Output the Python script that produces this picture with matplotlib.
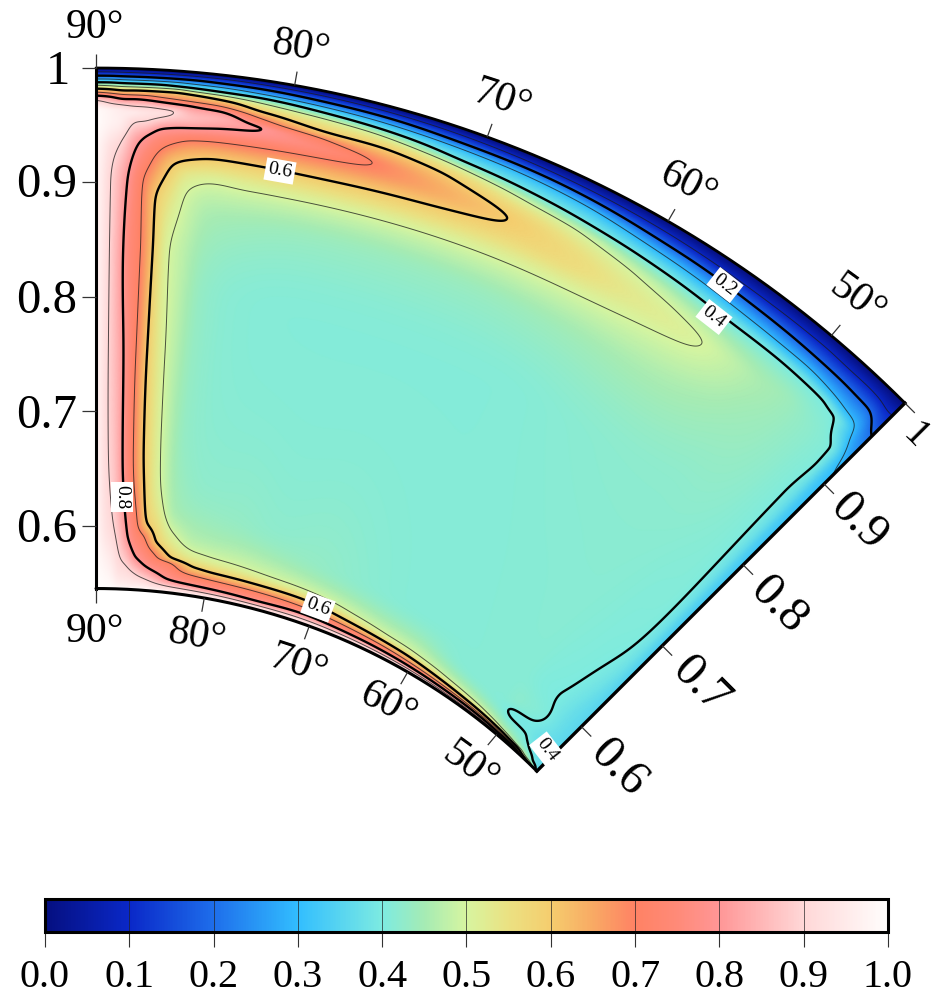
import numpy as np
import matplotlib
matplotlib.use("Agg")
import matplotlib.pyplot as plt
from matplotlib.colors import LinearSegmentedColormap

plt.rcParams['font.family'] = ['Liberation Serif', 'DejaVu Serif']

W, H = 937, 997
CX, CY, RPX = 96.0, 1212.0, 1144.0
R_IN = 0.545

# Field readings along rays of constant angle (radius, value)
r_90 = [.545,.7,.85,.955,.965,.972,.976,.979,.982,.985,.9875,.9904,.9933,.9967,1]
v_90 = [1,.99,.99,1,.99,.9,.8,.7,.6,.5,.4,.3,.2,.1,0]
r_892 = [.545,.57,.6,.667,.75,.84,.9,.93,.955,.963,.969,.975,.978,.9815,.9845,.9875,.9904,.9933,.9967,1]
v_892 = [1,.97,.93,.905,.9,.9,.9,.92,.97,.97,.9,.8,.7,.6,.5,.4,.3,.2,.1,0]
r_886 = [.545,.56,.6077,.667,.75,.84,.9,.9347,.955,.9635,.968,.973,.977,.9805,.984,.987,.99,.993,.9965,1]
v_886 = [1,.97,.9,.873,.85,.83,.84,.9,.96,.95,.9,.8,.7,.6,.5,.4,.3,.2,.1,0]
r_88 = [.545,.553,.574,.66,.75,.84,.9,.935,.954,.962,.967,.9735,.977,.981,.984,.987,.99,.993,.9965,1]
v_88 = [1,.95,.9,.8,.78,.75,.767,.82,.9,.95,.9,.8,.7,.6,.5,.4,.3,.2,.1,0]
r_874 = [.545,.55,.567,.594,.667,.75,.84,.9,.92,.94,.954,.962,.967,.973,.977,.981,.984,.987,.99,.993,.9965,1]
v_874 = [1,.96,.9,.8,.73,.71,.71,.7,.74,.8,.9,.93,.9,.8,.7,.6,.5,.4,.3,.2,.1,0]
r_867 = [.545,.549,.56,.575,.615,.667,.75,.84,.886,.91,.927,.948,.958,.962,.966,.972,.976,.981,.984,.987,.99,.993,.9965,1]
v_867 = [1,.96,.9,.8,.7,.63,.61,.61,.6,.65,.7,.8,.9,.925,.9,.8,.7,.6,.5,.4,.3,.2,.1,0]
r_859 = [.545,.556,.568,.592,.605,.667,.75,.843,.867,.886,.916,.936,.95,.964,.971,.975,.981,.984,.9865,.99,.993,.9965,1]
v_859 = [1,.9,.8,.7,.6,.55,.53,.51,.52,.54,.6,.7,.8,.9,.8,.7,.6,.5,.4,.3,.2,.1,0]
r_85 = [.545,.553,.563,.578,.59,.645,.7,.75,.84,.87,.894,.91,.923,.94,.951,.96,.97,.974,.98,.983,.986,.9895,.993,.9965,1]
v_85 = [1,.9,.8,.7,.6,.5,.485,.48,.48,.49,.5,.53,.6,.7,.8,.86,.8,.7,.6,.5,.4,.3,.2,.1,0]
r_835 = [.545,.5505,.5565,.571,.576,.597,.62,.7,.8,.87,.905,.926,.941,.953,.962,.968,.9725,.978,.982,.985,.989,.9925,.9965,1]
v_835 = [1,.9,.8,.7,.6,.5,.45,.43,.43,.45,.5,.6,.7,.8,.84,.8,.7,.6,.5,.4,.3,.2,.1,0]
r_81 = [.545,.5495,.554,.562,.568,.581,.6,.65,.8,.87,.902,.925,.941,.9576,.965,.971,.979,.984,.9875,.992,.996,1]
v_81 = [1,.9,.8,.7,.6,.5,.45,.42,.412,.44,.5,.6,.7,.8,.7,.6,.5,.4,.3,.2,.1,0]
r_78 = [.545,.549,.553,.5605,.567,.579,.62,.8,.87,.9017,.924,.9415,.95,.958,.964,.976,.981,.986,.9905,.9955,1]
v_78 = [1,.9,.8,.7,.6,.5,.43,.41,.435,.5,.6,.7,.75,.7,.6,.5,.4,.3,.2,.1,0]
r_753 = [.545,.5485,.552,.56,.566,.576,.62,.8,.87,.902,.925,.948,.964,.974,.979,.985,.99,.995,1]
v_753 = [1,.9,.8,.7,.6,.5,.42,.41,.435,.5,.6,.7,.6,.5,.4,.3,.2,.1,0]
r_71 = [.545,.549,.5535,.559,.5655,.574,.6,.8,.87,.903,.928,.942,.956,.967,.973,.9825,.9875,.994,1]
v_71 = [1,.9,.8,.7,.6,.5,.43,.41,.435,.5,.6,.64,.6,.5,.4,.3,.2,.1,0]
r_675 = [.545,.5485,.552,.557,.562,.57,.6,.8,.87,.904,.94,.961,.9695,.981,.987,.993,1]
v_675 = [1,.9,.8,.7,.6,.5,.42,.41,.435,.5,.6,.5,.4,.3,.2,.1,0]
r_635 = [.545,.548,.551,.555,.559,.565,.6,.8,.87,.905,.93,.955,.965,.978,.985,.992,1]
v_635 = [1,.9,.8,.7,.6,.5,.412,.41,.44,.5,.565,.5,.4,.3,.2,.1,0]
r_60 = [.545,.5475,.55,.553,.557,.5625,.6,.8,.87,.908,.928,.945,.961,.973,.982,.991,1]
v_60 = [1,.9,.8,.7,.6,.5,.41,.415,.445,.5,.53,.5,.4,.3,.2,.1,0]
r_57 = [.545,.547,.549,.5515,.5545,.559,.58,.8,.87,.9133,.925,.936,.958,.9705,.981,.99,1]
v_57 = [1,.9,.8,.7,.6,.5,.412,.418,.45,.5,.515,.5,.4,.3,.2,.1,0]
r_548 = [.545,.5465,.5485,.5505,.553,.557,.575,.8,.88,.9257,.955,.968,.979,.989,1]
v_548 = [1,.9,.8,.7,.6,.5,.412,.42,.455,.5,.4,.3,.2,.1,0]
r_52 = [.545,.5462,.548,.5495,.5515,.5545,.57,.8,.9,.925,.955,.9665,.978,.989,1]
v_52 = [1,.9,.8,.7,.6,.5,.415,.42,.45,.46,.4,.3,.2,.1,0]
r_50 = [.545,.546,.547,.5485,.55,.552,.558,.564,.571,.578,.6,.8,.9,.93,.954,.966,.977,.989,1]
v_50 = [1,.9,.8,.7,.6,.5,.43,.4,.39,.4,.405,.42,.44,.445,.4,.3,.2,.1,0]
r_48 = [.545,.5455,.5465,.5475,.5485,.5495,.555,.562,.575,.598,.65,.75,.85,.92,.952,.963,.976,.988,1]
v_48 = [1,.9,.8,.7,.6,.5,.42,.4,.385,.4,.405,.41,.42,.425,.4,.3,.2,.1,0]
r_47 = [.545,.548,.555,.57,.6,.645,.75,.85,.92,.948,.96,.975,.988,1]
v_47 = [.7,.5,.4,.375,.385,.4,.41,.41,.415,.4,.3,.2,.1,0]
r_46 = [.545,.5465,.549,.56,.6,.684,.75,.85,.9,.925,.945,.955,.974,.987,1]
v_46 = [.6,.5,.4,.37,.365,.398,.403,.403,.403,.4,.33,.3,.2,.1,0]
r_453 = [.545,.55,.6,.7,.8,.9,.92,.945,.962,.98,1]
v_453 = [.4,.37,.36,.345,.33,.31,.3,.25,.2,.12,0]
r_45 = [.545,.55,.6,.7,.8,.905,.957,.978,.985,1]
v_45 = [.38,.36,.35,.335,.32,.3,.2,.12,.1,0]

ray_angles = [45,45.3,46,47,48,50,52,54.8,57,60,63.5,67.5,71,75.3,78,81,83.5,85,85.9,86.7,87.4,88,88.6,89.2,90]
ray_r = [r_45,r_453,r_46,r_47,r_48,r_50,r_52,r_548,r_57,r_60,r_635,r_675,r_71,r_753,r_78,r_81,r_835,r_85,r_859,r_867,r_874,r_88,r_886,r_892,r_90]
ray_v = [v_45,v_453,v_46,v_47,v_48,v_50,v_52,v_548,v_57,v_60,v_635,v_675,v_71,v_753,v_78,v_81,v_835,v_85,v_859,v_867,v_874,v_88,v_886,v_892,v_90]

# Colour scale
cmap_pos = [0,.1,.2,.3,.4,.45,.5,.55,.6,.65,.7,.75,.8,.9,1]
cmap_col = ['#050f80','#0a28c8','#1e6eeb','#32beff','#7debe1','#a5ebb4','#d7f5a0',
            '#ebe182','#f5cd6e','#f8aa64','#ff8264','#ff8a78','#ff9696','#ffd7d7','#fffdfc']
cb_ticks = [i / 10 for i in range(11)]
left_ticks = [1, .9, .8, .7, .6]
left_labels = ['1', '0.9', '0.8', '0.7', '0.6']
angle_ticks = [90, 80, 70, 60, 50]
right_ticks = [1, .9, .8, .7, .6]


def pchip(x, y, xq):
    x = np.asarray(x, float); y = np.asarray(y, float)
    h = np.diff(x); d = np.diff(y) / h
    m = np.zeros_like(y)
    m[0], m[-1] = d[0], d[-1]
    for i in range(1, len(x) - 1):
        if d[i - 1] * d[i] > 0:
            w1 = 2 * h[i] + h[i - 1]; w2 = h[i] + 2 * h[i - 1]
            m[i] = (w1 + w2) / (w1 / d[i - 1] + w2 / d[i])
    k = np.clip(np.searchsorted(x, xq) - 1, 0, len(h) - 1)
    t = (xq - x[k]) / h[k]
    return ((2*t**3 - 3*t**2 + 1) * y[k] + (t**3 - 2*t**2 + t) * h[k] * m[k]
            + (-2*t**3 + 3*t**2) * y[k + 1] + (t**3 - t**2) * h[k] * m[k + 1])


def blur(a, sigma, axis):
    n = int(3 * sigma) + 1
    g = np.exp(-0.5 * (np.arange(-n, n + 1) / sigma) ** 2); g /= g.sum()
    a = np.moveaxis(a, axis, 0)
    pad = np.pad(a, ((n, n), (0, 0)), mode='edge')
    out = np.apply_along_axis(lambda c: np.convolve(c, g, mode='valid'), 0, pad)
    return np.moveaxis(out, 0, axis)


def ramp(x, a, b):
    t = np.clip((x - a) / (b - a), 0, 1)
    return t * t * (3 - 2 * t)


rq = np.linspace(R_IN, 1.0, 1000)
pq = np.linspace(45, 90, 900)
Zr = np.array([pchip(rr, vv, rq) for rr, vv in zip(ray_r, ray_v)])
Z = np.array([pchip(ray_angles, Zr[:, j], pq) for j in range(len(rq))])
Z = blur(blur(Z, 1.5, 0), 5.0, 1)
# smooth the hand readings more where the field varies slowly
w_phi = ramp(pq, 50, 53) * (1 - ramp(pq, 80, 83))
Z = Z * (1 - w_phi) + blur(Z, 24.0, 1) * w_phi
w_r = (ramp(rq, .585, .62) * (1 - ramp(rq, .895, .925)))[:, None]
Z = Z * (1 - w_r) + blur(Z, 9.0, 0) * w_r
# wedge beside the right edge, where the values hardly change
w_c = (ramp(rq, .565, .6) * (1 - ramp(rq, .87, .91)))[:, None] * ramp(pq, 45.4, 46.0) * (1 - ramp(pq, 50, 52))
Z = Z * (1 - w_c) + blur(blur(Z, 45.0, 0), 7.0, 1) * w_c
Z = np.clip(Z, 0, 1)
RR, PP = np.meshgrid(rq, np.deg2rad(pq), indexing='ij')
X, Y = RR * np.cos(PP), RR * np.sin(PP)

cmap = LinearSegmentedColormap.from_list('field', list(zip(cmap_pos, cmap_col)), N=512)

fig = plt.figure(figsize=(W / 100, H / 100), dpi=100)
ax = fig.add_axes([0, 0, 1, 1])
ax.set_xlim(-CX / RPX, (W - CX) / RPX)
ax.set_ylim((CY - H) / RPX, CY / RPX)
ax.axis('off')


def P(px, py):
    return (px - CX) / RPX, (CY - py) / RPX


mesh = ax.pcolormesh(X, Y, Z, cmap=cmap, vmin=0, vmax=1, shading='gouraud', rasterized=True)
ax.contour(X, Y, Z, levels=[.1, .3, .5, .7, .9], colors='#1a1a1a', linewidths=0.7, alpha=0.75)
ax.contour(X, Y, Z, levels=[.2, .4, .6, .8], colors='black', linewidths=1.7)

# Frame
a = np.deg2rad(np.linspace(45, 90, 300))
ax.plot(np.cos(a), np.sin(a), color='black', lw=2.0, solid_capstyle='round')
ax.plot(R_IN * np.cos(a), R_IN * np.sin(a), color='black', lw=2.2, solid_capstyle='round')
ax.plot([0, 0], [R_IN, 1], color='black', lw=2.2)
c45 = np.cos(np.pi / 4)
ax.plot([R_IN * c45, c45], [R_IN * c45, c45], color='black', lw=2.4)

TL = 14 / RPX
tick_kw = dict(color='#333333', lw=0.9, solid_capstyle='butt')
for r in left_ticks:
    ax.plot([-TL, 0], [r, r], **tick_kw)
for d in angle_ticks:
    t = np.deg2rad(d)
    ax.plot([np.cos(t), (1 + TL) * np.cos(t)], [np.sin(t), (1 + TL) * np.sin(t)], **tick_kw)
    ax.plot([R_IN * np.cos(t), (R_IN - TL) * np.cos(t)], [R_IN * np.sin(t), (R_IN - TL) * np.sin(t)], **tick_kw)
for r in right_ticks:
    ax.plot([r * c45, r * c45 + TL * c45], [r * c45, r * c45 - TL * c45], **tick_kw)

RAD_FS, ANG_FS = 35, 30
left_pos = [(58, 72), (47, 185), (47, 301), (47, 416), (47, 530)]
for lab, (px, py) in zip(left_labels, left_pos):
    ax.text(*P(px, py), lab, fontsize=RAD_FS, ha='center', va='center')

top_pos = [(95, 28), (301, 47), (502, 100), (688, 185), (857, 300)]
bot_pos = [(95, 632), (197, 636), (298, 665), (388, 705), (470, 767)]
for d, (px, py) in zip(angle_ticks, top_pos):
    ax.text(*P(px, py), f'{d}°', fontsize=ANG_FS, ha='center', va='center', rotation=-(90 - d) * 0.9, rotation_mode='anchor')
for d, (px, py) in zip(angle_ticks, bot_pos):
    ax.text(*P(px, py), f'{d}°', fontsize=ANG_FS, ha='center', va='center', rotation=-(90 - d) * 0.9, rotation_mode='anchor')

right_pos = [(915, 436), (858, 522), (778, 605), (700, 685), (618, 768)]
right_labels = ['1', '0.9', '0.8', '0.7', '0.6']
right_sizes = [28, RAD_FS, RAD_FS, RAD_FS, RAD_FS]
for lab, (px, py), fs in zip(right_labels, right_pos, right_sizes):
    ax.text(*P(px, py), lab, fontsize=fs, ha='center', va='center', rotation=-45, rotation_mode='anchor')

# Contour labels
clabels = [('0.6', 280, 171, -10), ('0.2', 725, 285, -38), ('0.4', 714, 317, -38),
           ('0.8', 122, 497, -90), ('0.6', 318, 607, -20), ('0.4', 547, 750, -52)]
for s, px, py, rot in clabels:
    ax.text(*P(px, py), s, fontsize=14, ha='center', va='center', rotation=rot,
            rotation_mode='anchor', zorder=6,
            bbox=dict(facecolor='white', edgecolor='none', pad=2.0))

# Colour bar
cax = fig.add_axes([45 / W, 1 - 932 / H, (888 - 45) / W, 33 / H])
cb = fig.colorbar(mesh, cax=cax, orientation='horizontal', ticks=cb_ticks)
cb.ax.set_xticklabels([f'{v:.1f}' for v in cb_ticks], fontsize=29)
cb.ax.tick_params(axis='x', length=10.5, width=0.8, color='#333333', pad=9)
cb.outline.set_linewidth(2.2)
for v in cb_ticks[1:-1]:
    cax.axvline(v, color='#222222', lw=0.6, alpha=0.8)

fig.savefig('out.png', dpi=100)
